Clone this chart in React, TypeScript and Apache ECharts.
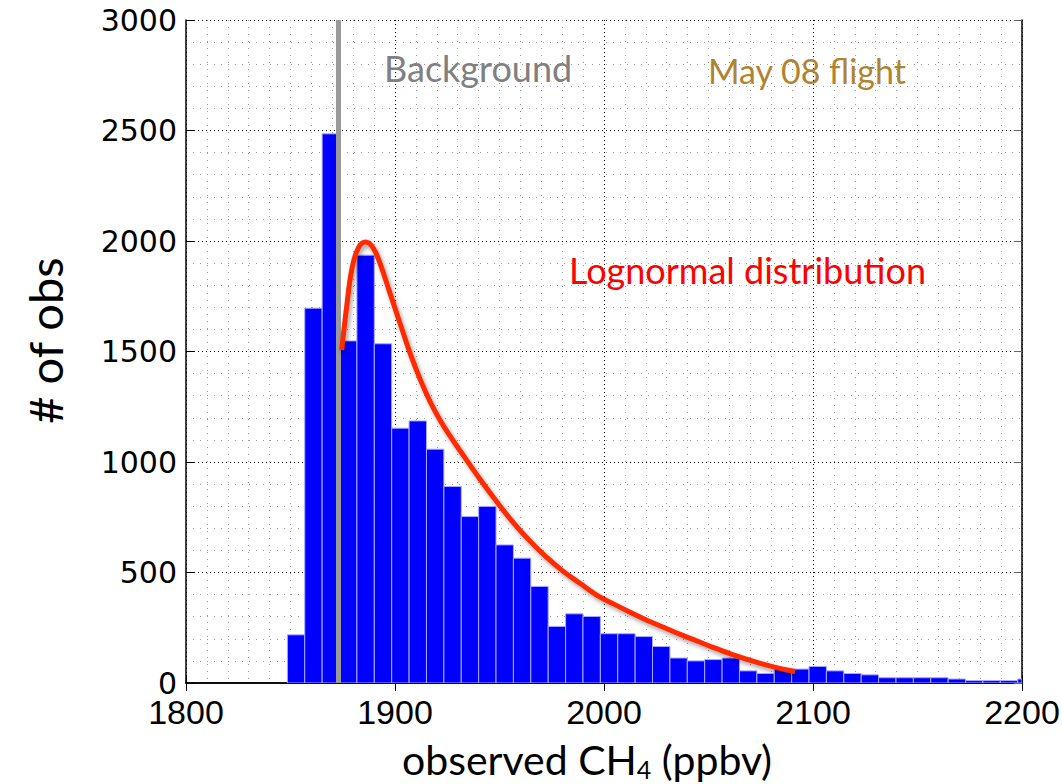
import React, { useEffect, useRef } from "react";
import * as echarts from "echarts";

// Axis ranges / ticks
const xMin = 1800;
const xMax = 2200;
const xStep = 100;
const yMin = 0;
const yMax = 3000;
const yStep = 500;

// Histogram bins (regular bins of observed CH4, ppbv)
const binStart = 1848.5;
const binWidth = 8.32;
const counts = [
  218, 1696, 2485, 1548, 1936, 1535, 1153, 1186, 1058, 889, 753, 799, 625, 565,
  437, 256, 313, 301, 223, 223, 210, 165, 113, 100, 106, 113, 55, 43, 63, 63, 75,
  55, 43, 37, 24, 24, 24, 24, 18, 11, 11, 11, 18,
];

// Background CH4 level
const backgroundCH4 = 1872.7;

// Lognormal distribution curve
const lognormalX = [
  1874.5, 1876.9, 1879.3, 1882.4, 1886.0, 1889.6, 1892.8, 1897.6, 1902.4, 1907.2,
  1912.0, 1916.7, 1921.5, 1926.3, 1932.7, 1940.7, 1948.7, 1956.6, 1964.6, 1972.6,
  1980.5, 1988.5, 1996.5, 2004.5, 2012.5, 2020.5, 2028.5, 2036.5, 2044.5, 2052.5,
  2060.5, 2068.5, 2076.5, 2084.5, 2091.4,
];
const lognormalY = [
  1507, 1704, 1870, 1968, 1995, 1968, 1900, 1764, 1628, 1493,
  1375, 1275, 1190, 1118, 1030, 922, 820, 726, 642, 568,
  505, 451, 398, 358, 320, 284, 252, 220, 190, 160,
  132, 107, 84, 65, 52,
];

const annoFont = "Lato, 'Open Sans', sans-serif";

export default function App() {
  const ref = useRef<HTMLDivElement>(null);

  useEffect(() => {
    if (!ref.current) return;
    const chart = echarts.init(ref.current, null, { renderer: "svg" });

    const bars = counts.map((c, i) => [
      binStart + i * binWidth,
      binStart + (i + 1) * binWidth,
      c,
    ]);
    const curve = lognormalX.map((x, i) => [x, lognormalY[i]]);

    const majorGrid = { show: true, lineStyle: { color: "#000", width: 1, type: [1, 3] } };
    const minorGrid = { show: true, lineStyle: { color: "#9a9a9a", width: 1, type: [1, 6] } };
    const plain = (v: number) => String(v);

    chart.setOption({
      animation: false,
      backgroundColor: "#fff",
      grid: {
        left: 186,
        right: 40,
        top: 20,
        bottom: 101,
        containLabel: false,
        outerBoundsMode: "none",
      },
      xAxis: [
        {
          type: "value",
          min: xMin,
          max: xMax,
          interval: xStep,
          position: "bottom",
          axisLine: { show: true, lineStyle: { color: "#000", width: 1.5 } },
          axisTick: { show: true, inside: true, length: 8, lineStyle: { color: "#000" } },
          minorTick: { show: false, splitNumber: 10 },
          splitLine: majorGrid,
          minorSplitLine: minorGrid,
          axisLabel: {
            color: "#000",
            fontSize: 34,
            fontFamily: "'Liberation Sans', Arial, sans-serif",
            margin: 12,
            formatter: plain,
          },
          name: "{a|observed CH}{s|4}{a| (ppbv)}",
          nameLocation: "middle",
          nameGap: 54,
          nameTextStyle: {
            padding: [0, 34, 0, 0],
            rich: {
              a: { fontSize: 41, fontFamily: annoFont, color: "#000", lineHeight: 44 },
              s: { fontSize: 25, fontFamily: annoFont, color: "#000", lineHeight: 44, verticalAlign: "bottom" },
            },
          },
        },
        {
          type: "value",
          min: xMin,
          max: xMax,
          interval: xStep,
          position: "top",
          axisLine: { show: true, lineStyle: { color: "#000", width: 1.5 } },
          axisTick: { show: true, inside: true, length: 8, lineStyle: { color: "#000" } },
          axisLabel: { show: false },
          splitLine: { show: false },
        },
      ],
      yAxis: [
        {
          type: "value",
          min: yMin,
          max: yMax,
          interval: yStep,
          position: "left",
          axisLine: { show: true, lineStyle: { color: "#000", width: 1.5 } },
          axisTick: { show: true, inside: true, length: 8, lineStyle: { color: "#000" } },
          minorTick: { show: false, splitNumber: 5 },
          splitLine: majorGrid,
          minorSplitLine: minorGrid,
          axisLabel: {
            color: "#000",
            fontSize: 30,
            fontFamily: "'DejaVu Sans', sans-serif",
            margin: 9,
            formatter: plain,
          },
          name: "# of obs",
          nameLocation: "middle",
          nameRotate: 90,
          nameGap: 118,
          nameTextStyle: {
            fontSize: 47,
            fontFamily: annoFont,
            color: "#000",
            padding: [0, 0, 0, 22],
          },
        },
        {
          type: "value",
          min: yMin,
          max: yMax,
          interval: yStep,
          position: "right",
          axisLine: { show: true, lineStyle: { color: "#000", width: 1.5 } },
          axisTick: { show: true, inside: true, length: 8, lineStyle: { color: "#666" } },
          axisLabel: { show: false },
          splitLine: { show: false },
        },
      ],
      series: [
        {
          type: "custom",
          name: "histogram",
          xAxisIndex: 0,
          yAxisIndex: 0,
          clip: true,
          z: 2,
          encode: { x: [0, 1], y: 2 },
          data: bars,
          renderItem: (params: any, api: any) => {
            const p0 = api.coord([api.value(0), 0]);
            const p1 = api.coord([api.value(1), api.value(2)]);
            const rect = echarts.graphic.clipRectByRect(
              { x: p0[0], y: p1[1], width: p1[0] - p0[0], height: p0[1] - p1[1] },
              {
                x: params.coordSys.x,
                y: params.coordSys.y,
                width: params.coordSys.width,
                height: params.coordSys.height,
              }
            );
            return (
              rect && {
                type: "rect",
                shape: rect,
                style: { fill: "#0000ff", stroke: "#aaaaff", lineWidth: 1 },
              }
            );
          },
        },
        {
          type: "line",
          name: "Lognormal distribution",
          xAxisIndex: 0,
          yAxisIndex: 0,
          z: 4,
          symbol: "none",
          smooth: 0.4,
          data: curve,
          lineStyle: {
            color: "#ff2a00",
            width: 5,
            cap: "butt",
            shadowColor: "rgba(0,0,0,0.35)",
            shadowBlur: 4,
            shadowOffsetX: 2,
            shadowOffsetY: 3,
          },
          markLine: {
            silent: true,
            symbol: "none",
            z: 3,
            label: { show: false },
            lineStyle: {
              color: "#999999",
              width: 5,
              type: "solid",
            },
            emphasis: { disabled: true },
            data: [{ xAxis: backgroundCH4 }],
          },
        },
      ],
      graphic: [
        {
          type: "text",
          left: 384,
          top: 50,
          style: { text: "Background", fill: "#808080", font: `36px ${annoFont}` },
          z: 10,
        },
        {
          type: "text",
          left: 708,
          top: 53,
          style: { text: "May 08 flight", fill: "#b0842f", font: `34px ${annoFont}` },
          z: 10,
        },
        {
          type: "text",
          left: 569,
          top: 252,
          style: { text: "Lognormal distribution", fill: "#ff0000", font: `36px ${annoFont}` },
          z: 10,
        },
      ],
    });

    return () => chart.dispose();
  }, []);

  return (
    <div
      ref={ref}
      style={{ position: "absolute", left: 0, top: 0, width: 1062, height: 784 }}
    />
  );
}
